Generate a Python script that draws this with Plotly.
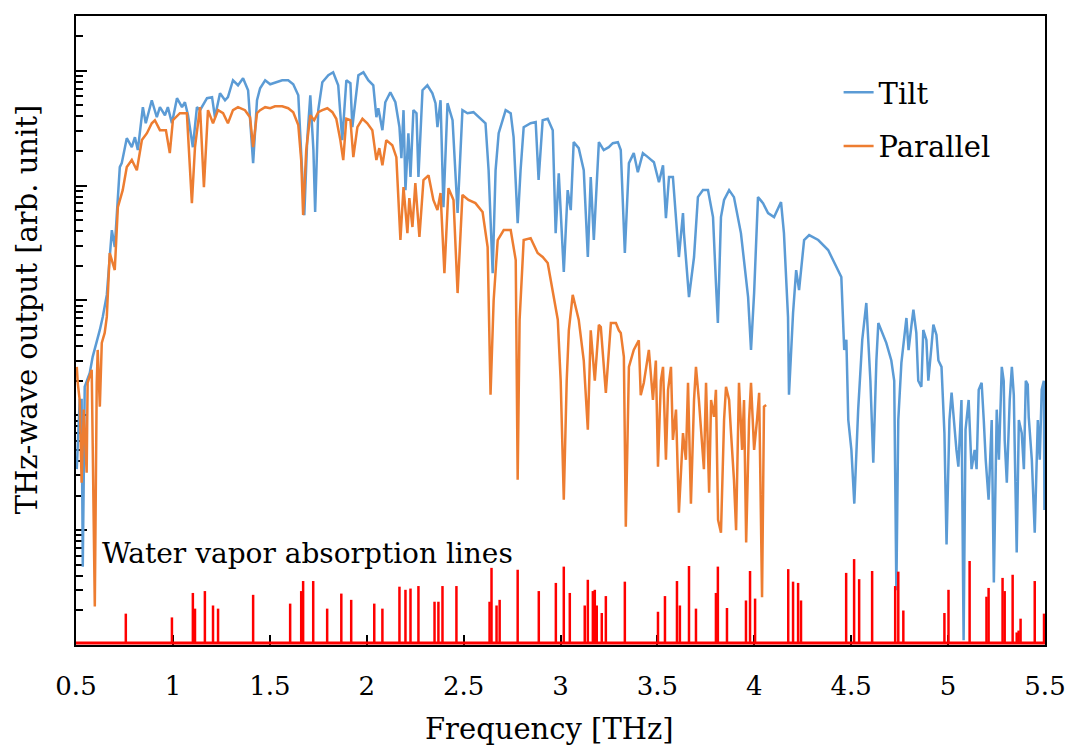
import plotly.graph_objects as go

# ---------------- data ----------------
tilt_freq = [
    0.504, 0.519, 0.529, 0.535, 0.545, 0.571, 0.586, 0.607, 0.623, 0.638, 0.659, 0.685, 0.700, 0.726, 0.736,
    0.762, 0.788, 0.804, 0.819, 0.845, 0.860, 0.891, 0.917, 0.933, 0.959, 0.974, 0.995, 1.021, 1.047, 1.062,
    1.078, 1.103, 1.124, 1.140, 1.176, 1.202, 1.217, 1.243, 1.269, 1.284, 1.310, 1.336, 1.362, 1.388, 1.414,
    1.434, 1.450, 1.476, 1.502, 1.533, 1.564, 1.595, 1.621, 1.647, 1.662, 1.678, 1.693, 1.709, 1.725, 1.734,
    1.750, 1.771, 1.802, 1.827, 1.853, 1.874, 1.895, 1.916, 1.926, 1.942, 1.957, 1.983, 2.008, 2.034, 2.050,
    2.060, 2.081, 2.096, 2.122, 2.148, 2.169, 2.179, 2.190, 2.200, 2.215, 2.226, 2.241, 2.257, 2.267, 2.288,
    2.313, 2.339, 2.355, 2.365, 2.381, 2.396, 2.417, 2.443, 2.458, 2.469, 2.494, 2.520, 2.551, 2.587, 2.613,
    2.629, 2.650, 2.665, 2.681, 2.717, 2.743, 2.758, 2.779, 2.794, 2.810, 2.846, 2.872, 2.887, 2.908, 2.934,
    2.960, 2.975, 2.991, 3.017, 3.037, 3.053, 3.068, 3.094, 3.120, 3.141, 3.156, 3.172, 3.198, 3.223, 3.249,
    3.270, 3.296, 3.311, 3.332, 3.353, 3.378, 3.399, 3.425, 3.451, 3.482, 3.508, 3.529, 3.544, 3.560, 3.580,
    3.611, 3.632, 3.637, 3.663, 3.689, 3.709, 3.735, 3.761, 3.787, 3.802, 3.812, 3.828, 3.844, 3.870, 3.895,
    3.931, 3.968, 3.983, 3.999, 4.019, 4.045, 4.071, 4.102, 4.138, 4.153, 4.174, 4.179, 4.200, 4.216, 4.231,
    4.257, 4.283, 4.330, 4.381, 4.412, 4.449, 4.464, 4.475, 4.485, 4.501, 4.516, 4.536, 4.557, 4.578, 4.599,
    4.614, 4.630, 4.640, 4.681, 4.707, 4.722, 4.733, 4.743, 4.759, 4.785, 4.796, 4.810, 4.821, 4.836, 4.846,
    4.862, 4.872, 4.888, 4.898, 4.914, 4.924, 4.940, 4.950, 4.966, 4.981, 4.992, 5.007, 5.018, 5.028, 5.043,
    5.053, 5.069, 5.080, 5.090, 5.106, 5.121, 5.137, 5.147, 5.158, 5.173, 5.184, 5.194, 5.209, 5.225, 5.236,
    5.251, 5.262, 5.277, 5.287, 5.292, 5.303, 5.318, 5.329, 5.339, 5.344, 5.354, 5.365, 5.380, 5.391, 5.401,
    5.411, 5.416, 5.432, 5.447, 5.463, 5.473, 5.483, 5.494, 5.497, 5.500,
]
tilt_val = [
    34, 136, 136, 4.8, 177, 234, 323, 427, 554, 719, 1117, 4100, 2920, 14500, 15700,
    25900, 21600, 26400, 20400, 48200, 34900, 55400, 39400, 48200, 41000, 48200, 34900, 57700, 48200, 53200,
    41000, 21600, 48200, 45400, 57700, 58900, 39400, 63700, 55400, 58900, 82700, 74800, 86100, 67700, 15700,
    55400, 70500, 82700, 76300, 79400, 82700, 82700, 76300, 61200, 16700, 5540, 24900, 61200, 20400, 5890,
    45400, 79400, 91400, 97000, 74800, 24900, 82700, 77900, 32300, 55400, 91400, 97000, 82700, 74800, 39400,
    47200, 30400, 53200, 65000, 53200, 32300, 17300, 45400, 9140, 28600, 11900, 45400, 42700, 11900, 67700,
    74800, 63700, 52200, 32300, 55400, 6500, 52200, 37100, 11900, 5770, 45400, 42700, 43600, 38200, 34900,
    13600, 1730, 13600, 28600, 45400, 42700, 26400, 4720, 13600, 32300, 34900, 35700, 11200, 37100, 38200,
    30400, 3860, 12800, 1770, 9140, 6120, 23900, 21200, 13600, 2390, 11900, 3360, 23900, 20400, 21600,
    23400, 23900, 20400, 2590, 15700, 19200, 13100, 19200, 17700, 16000, 10700, 15000, 5210, 11900, 11900,
    2390, 5770, 3860, 1070, 2390, 7940, 9140, 9140, 5320, 1420, 637, 5320, 7500, 9140, 7940,
    3860, 1070, 371, 1160, 7940, 7040, 5770, 5320, 7190, 3860, 719, 151, 778, 1840, 1230,
    3360, 3710, 3360, 2750, 2120, 1600, 371, 454, 91, 50, 17, 112, 454, 951, 200,
    38.6, 300, 637, 427, 300, 200, 3.0, 91, 286, 704, 370, 588, 830, 522, 200,
    177, 554, 454, 200, 394, 615, 501, 300, 264, 70, 7.5, 91, 158, 97, 50,
    35.7, 136, 1.1, 75, 136, 34, 50, 34, 167, 192, 91, 41, 18.4, 91, 3.5,
    112, 41, 264, 200, 61, 25.9, 136, 264, 150, 50, 6.4, 91, 70, 34, 200,
    185, 97, 41, 9.5, 91, 41, 167, 200, 15, 91,
]

parallel_freq = [
    0.504, 0.509, 0.519, 0.529, 0.540, 0.555, 0.560, 0.581, 0.586, 0.597, 0.607, 0.612, 0.623, 0.633, 0.648,
    0.659, 0.674, 0.700, 0.716, 0.741, 0.762, 0.788, 0.814, 0.840, 0.866, 0.891, 0.907, 0.933, 0.964, 0.984,
    1.000, 1.036, 1.072, 1.098, 1.114, 1.140, 1.160, 1.181, 1.207, 1.233, 1.259, 1.284, 1.310, 1.336, 1.372,
    1.398, 1.414, 1.434, 1.450, 1.476, 1.502, 1.527, 1.564, 1.595, 1.621, 1.647, 1.662, 1.672, 1.688, 1.709,
    1.729, 1.750, 1.771, 1.797, 1.823, 1.843, 1.864, 1.879, 1.895, 1.916, 1.931, 1.952, 1.978, 2.003, 2.029,
    2.050, 2.065, 2.081, 2.101, 2.132, 2.153, 2.174, 2.190, 2.210, 2.220, 2.236, 2.251, 2.272, 2.293, 2.319,
    2.344, 2.365, 2.381, 2.401, 2.422, 2.448, 2.469, 2.494, 2.525, 2.561, 2.598, 2.624, 2.639, 2.655, 2.676,
    2.707, 2.743, 2.769, 2.779, 2.789, 2.810, 2.846, 2.882, 2.908, 2.934, 2.960, 2.986, 3.001, 3.017, 3.032,
    3.043, 3.063, 3.094, 3.120, 3.141, 3.156, 3.177, 3.198, 3.208, 3.234, 3.260, 3.286, 3.301, 3.311, 3.327,
    3.337, 3.353, 3.378, 3.404, 3.414, 3.430, 3.456, 3.477, 3.492, 3.503, 3.518, 3.529, 3.544, 3.555, 3.570,
    3.580, 3.596, 3.611, 3.632, 3.647, 3.658, 3.673, 3.689, 3.699, 3.714, 3.725, 3.740, 3.751, 3.767, 3.777,
    3.792, 3.802, 3.813, 3.828, 3.844, 3.854, 3.870, 3.880, 3.895, 3.906, 3.921, 3.937, 3.947, 3.958, 3.973,
    3.983, 3.999, 4.014, 4.025, 4.040, 4.050, 4.061,
]
parallel_val = [
    264, 192, 136, 25.9, 112, 31.6, 192, 249, 57.7, 2.16, 192, 371, 119, 427, 522,
    719, 2590, 1840, 6500, 9140, 14500, 16700, 13600, 24900, 28600, 34900, 37100, 30400, 30400, 19200,
    37100, 42700, 42700, 7040, 21600, 48200, 9700, 45400, 34900, 45400, 42700, 34900, 45400, 48200, 45400,
    39400, 21600, 42700, 45400, 48200, 47200, 49100, 49100, 47200, 43600, 33700, 16700, 5540, 20400, 41000,
    37100, 43600, 45400, 47200, 43600, 38200, 24900, 16700, 38200, 37100, 17700, 32300, 38200, 34900, 30400,
    16700, 21200, 15000, 24900, 22500, 17700, 3360, 9700, 3860, 7780, 4360, 10500, 3570, 11200, 12300,
    7500, 6120, 8610, 1730, 9510, 7500, 1160, 8300, 7500, 7040, 5890, 2920, 151, 1000, 3360,
    4100, 4100, 2250, 27.5, 680, 3360, 3490, 2590, 2390, 2120, 1160, 680, 200, 18.4, 200,
    550, 1120, 680, 300, 75, 550, 200, 612, 588, 157, 637, 637, 550, 522, 323,
    10.7, 264, 371, 450, 150, 192, 371, 136, 300, 35.7, 200, 264, 41, 167, 264,
    61, 112, 14.2, 70, 41, 192, 17, 136, 264, 136, 70, 34, 192, 21.2, 136,
    97, 167, 12.3, 9.5, 91, 177, 136, 70, 27.5, 10, 192, 50, 136, 7.8, 91,
    192, 50, 91, 157, 2.6, 119, 123,
]

water_freq = [
    0.757, 0.995, 1.103, 1.114, 1.165, 1.207, 1.233, 1.414, 1.605, 1.662, 1.672, 1.724, 1.796, 1.869, 1.920,
    2.039, 2.081, 2.169, 2.200, 2.226, 2.267, 2.350, 2.370, 2.391, 2.463, 2.634, 2.644, 2.670, 2.686, 2.779,
    2.888, 2.976, 3.017, 3.048, 3.125, 3.141, 3.167, 3.177, 3.187, 3.213, 3.234, 3.332, 3.503, 3.539, 3.601,
    3.616, 3.663, 3.699, 3.802, 3.812, 3.859, 3.957, 3.978, 4.004, 4.175, 4.200, 4.226, 4.241, 4.474, 4.515,
    4.541, 4.608, 4.727, 4.743, 4.769, 4.981, 5.002, 5.111, 5.198, 5.209, 5.281, 5.292, 5.333, 5.354, 5.364,
    5.374, 5.447, 5.495,
]
water_strength = [
    0.47, 0.41, 0.80, 0.55, 0.83, 0.60, 0.55, 0.77, 0.63, 0.83, 0.99, 0.99, 0.55, 0.79, 0.69,
    0.63, 0.55, 0.90, 0.85, 0.87, 0.91, 0.66, 0.66, 0.91, 0.91, 0.66, 1.20, 0.60, 0.69, 1.17,
    0.83, 0.96, 1.22, 0.80, 0.60, 1.01, 0.83, 0.85, 0.60, 0.48, 0.75, 0.98, 0.50, 0.75, 0.99,
    0.60, 1.23, 0.55, 0.80, 1.22, 0.56, 0.68, 1.15, 0.71, 1.18, 0.98, 0.96, 0.68, 1.12, 1.34,
    1.02, 1.15, 0.91, 1.14, 0.52, 0.48, 0.85, 1.31, 0.74, 0.88, 1.04, 0.83, 1.09, 0.17, 0.20,
    0.39, 0.99, 0.47,
]

x_tick_vals = [0.5, 1.0, 1.5, 2.0, 2.5, 3.0, 3.5, 4.0, 4.5, 5.0, 5.5]
x_tick_text = ["0.5", "1", "1.5", "2", "2.5", "3", "3.5", "4", "4.5", "5", "5.5"]

# ---------------- figure ----------------
FONT = "DejaVu Serif"
FS_TICK = 26
FS_TEXT = 29
FS_NOTE = 28
BLUE = "#5B9BD5"
ORANGE = "#ED7D31"
RED = "#FF0000"

fig = go.Figure()
fig.add_trace(go.Scatter(x=tilt_freq, y=tilt_val, mode="lines", name="Tilt",
                         line=dict(color=BLUE, width=2.5), legendgroup="tilt"))
fig.add_trace(go.Scatter(x=parallel_freq, y=parallel_val, mode="lines", name="Parallel",
                         line=dict(color=ORANGE, width=2.5), legendgroup="parallel"))

wx, wy = [], []
for f, s in zip(water_freq, water_strength):
    wx += [f, f, None]
    wy += [0, s, None]
fig.add_trace(go.Scatter(x=wx, y=wy, yaxis="y2", mode="lines", hoverinfo="skip",
                         line=dict(color=RED, width=2.5), showlegend=False))
fig.add_trace(go.Scatter(x=[x_tick_vals[0], x_tick_vals[-1]], y=[0, 0], yaxis="y2", mode="lines",
                         hoverinfo="skip", line=dict(color=RED, width=3), showlegend=False))

fig.update_layout(
    width=1067, height=749,
    margin=dict(l=76, r=22, t=16, b=104, autoexpand=False),
    paper_bgcolor="white", plot_bgcolor="white",
    font=dict(family=FONT, size=FS_TEXT, color="black"),
    showlegend=True,
    legend=dict(x=0.787, y=0.919, xanchor="left", yanchor="top",
                bgcolor="rgba(0,0,0,0)", font=dict(family=FONT, size=FS_TEXT, color="black"),
                tracegroupgap=13),
    xaxis=dict(range=[0.5, 5.5], tickvals=x_tick_vals, ticktext=x_tick_text,
               ticks="inside", ticklen=10, tickwidth=2, tickcolor="black",
               showline=True, linecolor="black", linewidth=2, mirror=True,
               showgrid=False, zeroline=False, layer="below traces", automargin=False,
               ticklabeloverflow="allow",
               tickfont=dict(family=FONT, size=FS_TICK, color="black"), ticklabelstandoff=17),
    yaxis=dict(type="log", range=[0, 5.477], showticklabels=False, automargin=False,
               ticks="inside", ticklen=11, tickwidth=2, tickcolor="black", dtick=1,
               minor=dict(ticks="inside", ticklen=7, tickwidth=1.5, tickcolor="black",
                          dtick="D1", showgrid=False),
               showline=True, linecolor="black", linewidth=2, mirror=True,
               showgrid=False, zeroline=False, layer="below traces"),
    yaxis2=dict(overlaying="y", range=[-0.03, 10], visible=False, showgrid=False, zeroline=False),
    annotations=[
        dict(text="THz-wave output [arb. unit]", xref="paper", yref="paper",
             x=-0.051, y=0.533, textangle=-90, showarrow=False, xanchor="center", yanchor="middle",
             font=dict(family=FONT, size=FS_TEXT, color="black")),
        dict(text="Frequency [THz]", xref="paper", yref="paper",
             x=0.489, y=-0.133, showarrow=False, xanchor="center", yanchor="middle",
             font=dict(family=FONT, size=FS_TEXT, color="black")),
        dict(text="Water vapor absorption lines", xref="paper", yref="paper",
             x=0.0245, y=0.146, showarrow=False, xanchor="left", yanchor="middle",
             font=dict(family=FONT, size=FS_NOTE, color="black")),
    ],
)

fig.write_html("out.html")
